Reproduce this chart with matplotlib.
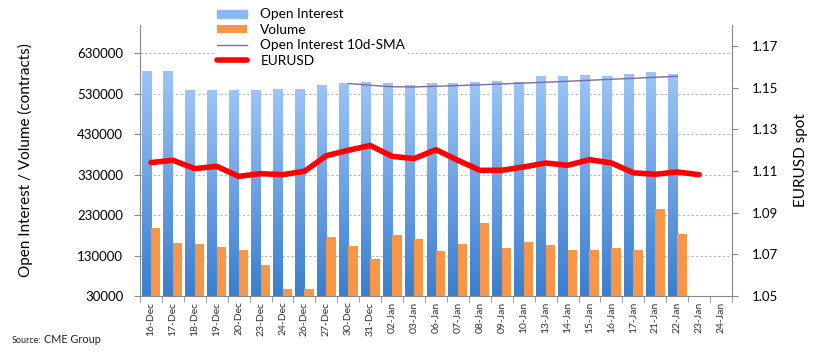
"""
EURUSD futures: open interest, volume and spot
"""
import numpy as np
import matplotlib.pyplot as plt
from matplotlib.colors import LinearSegmentedColormap

dates = ['16-Dec', '17-Dec', '18-Dec', '19-Dec', '20-Dec', '23-Dec', '24-Dec', '26-Dec',
         '27-Dec', '30-Dec', '31-Dec', '02-Jan', '03-Jan', '06-Jan', '07-Jan', '08-Jan',
         '09-Jan', '10-Jan', '13-Jan', '14-Jan', '15-Jan', '16-Jan', '17-Jan', '21-Jan',
         '22-Jan', '23-Jan', '24-Jan']
open_interest = [585500, 585500, 538600, 538600, 538600, 538600, 541100, 541100,
                 551000, 556000, 558400, 556000, 551000, 556000, 556000, 558400,
                 560800, 560000, 573200, 573200, 575600, 573200, 578100, 583000,
                 578100, np.nan, np.nan]
volume = [197200, 161600, 158400, 151000, 143600, 106500, 47300, 47300,
          175700, 153500, 121300, 180600, 170700, 141100, 158400, 210200,
          148500, 163300, 155900, 143600, 143600, 148500, 143600, 244800,
          183100, np.nan, np.nan]
oi_sma = [np.nan] * 9 + [555200, 551000, 547300, 546800, 548500, 550200, 552200,
                         554200, 556400, 558400, 560800, 563300, 565800, 568200,
                         570700, 573200, np.nan, np.nan]
eurusd = [1.1140, 1.1151, 1.1111, 1.1122, 1.1074, 1.1087, 1.1082, 1.1098,
          1.1173, 1.1199, 1.1222, 1.1170, 1.1159, 1.1202, 1.1151, 1.1103,
          1.1103, 1.1119, 1.1138, 1.1127, 1.1154, 1.1138, 1.1091, 1.1084,
          1.1095, 1.1082, np.nan]
fx_ticks = [1.05, 1.07, 1.09, 1.11, 1.13, 1.15, 1.17]

plt.rcParams['font.family'] = ['Lato', 'DejaVu Sans']

fig = plt.figure(figsize=(8.22, 3.55), dpi=100)
ax = fig.add_axes([0.1703, 0.1662, 0.7202, 0.7634])
x = np.arange(len(dates))
w = 0.43

blues = LinearSegmentedColormap.from_list('oi', ['#3a7ecf', '#a2c8f8'])
oi_bars = ax.bar(x - w / 2, open_interest, width=w, color='#7fb0ee', zorder=2,
                 label='Open Interest')
grad = np.linspace(0, 1, 256).reshape(-1, 1)
for b in oi_bars:
    h = b.get_height()
    if np.isnan(h):
        continue
    bx, bw = b.get_x(), b.get_width()
    im = ax.imshow(grad, cmap=blues, origin='lower', aspect='auto',
                   extent=[bx, bx + bw, 30000, 30000 + h], zorder=2.1)
    im.set_clip_path(b)
vol_bars = ax.bar(x + w / 2, volume, width=w, color='#f69646', zorder=3, label='Volume')
sma_line, = ax.plot(x, oi_sma, color='#7a6aa8', lw=1, zorder=4,
                    label='Open Interest 10d-SMA')

ax.set_xlim(-0.5, len(dates) - 0.5)
ax.set_ylim(30000, 700000)
ax.set_yticks(np.arange(30000, 630001, 100000))
ax.yaxis.grid(True, color='#b5b5b5', ls=(0, (2, 2)), lw=0.8)
ax.set_axisbelow(True)
ax.set_xticks(x)
ax.set_xticklabels(dates, rotation=90, fontsize=7.5, color='#333333')
ax.set_xticks(np.arange(-0.5, len(dates)), minor=True)
ax.tick_params(axis='x', which='major', length=0, pad=4)
ax.tick_params(axis='x', which='minor', length=4, color='#888888')
ax.tick_params(axis='y', labelsize=9.5, length=4, color='#888888', pad=8)
ax.set_ylabel('Open Interest / Volume (contracts)', fontsize=11)
ax.yaxis.set_label_coords(-0.181, 0.5)
for s in ['left', 'bottom']:
    ax.spines[s].set_color('#888888')
ax.spines['top'].set_visible(False)
ax.spines['right'].set_visible(False)

ax2 = ax.twinx()
fx_line, = ax2.plot(x, eurusd, color='#ff0000', lw=4, solid_capstyle='round',
                    zorder=5, label='EURUSD')
ax2.set_ylim(1.05, 1.18)
ax2.set_yticks(fx_ticks)
ax2.set_yticklabels(['%.2f' % v for v in fx_ticks])
ax2.tick_params(axis='y', labelsize=9.5, length=4, color='#888888', pad=10)
ax2.set_ylabel('EURUSD spot', fontsize=11, labelpad=12)
ax2.spines['right'].set_color('#888888')
ax2.spines['top'].set_visible(False)
ax2.spines['left'].set_visible(False)
ax2.spines['bottom'].set_visible(False)

leg = fig.legend([oi_bars, vol_bars, sma_line, fx_line],
                 ['Open Interest', 'Volume', 'Open Interest 10d-SMA', 'EURUSD'],
                 loc='upper left', bbox_to_anchor=(0.253, 1.003), fontsize=9.8,
                 frameon=True, facecolor='white', edgecolor='none', framealpha=1,
                 handlelength=2.2, handleheight=0.55, labelspacing=0.25,
                 borderpad=0.2, handletextpad=0.95)
leg.legend_handles[0].set_color('#8ab8f2')
leg.set_zorder(10)

fig.text(0.014, 0.035, 'Source:', fontsize=6.5, color='#222222')
fig.text(0.054, 0.035, 'CME Group', fontsize=7.8, color='#222222')

plt.savefig('out.png', dpi=100)
